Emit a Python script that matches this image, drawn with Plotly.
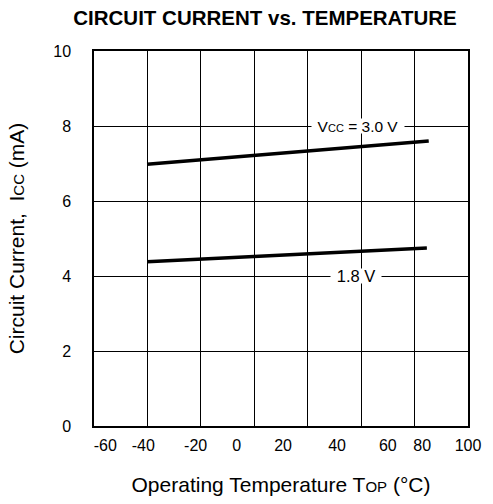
import plotly.graph_objects as go

# Data (x in the chart's linear axis units, y in mA)
temp_30 = [-37.3, 83.2]
icc_30 = [6.98, 7.60]
temp_18 = [-37.3, 82.4]
icc_18 = [4.38, 4.75]

# Tick labels and where they sit on the axis
x_tick_text = ["-60", "-40", "-20", "0", "20", "40", "60", "80", "100"]
x_tick_pos = [-55.2, -38.9, -16.5, 1.0, 20.9, 44.0, 65.7, 80.4, 100.0]
y_ticks = [0, 2, 4, 6, 8, 10]

FONT = "Liberation Sans, Arial, sans-serif"

fig = go.Figure()
fig.add_trace(go.Scatter(x=temp_30, y=icc_30, mode="lines",
                         line=dict(color="black", width=3.5),
                         hoverinfo="skip", showlegend=False))
fig.add_trace(go.Scatter(x=temp_18, y=icc_18, mode="lines",
                         line=dict(color="black", width=3.5),
                         hoverinfo="skip", showlegend=False))
# invisible trace on the label axis so it is drawn
fig.add_trace(go.Scatter(x=[x_tick_pos[0]], y=[0], xaxis="x2", mode="markers",
                         marker=dict(opacity=0), hoverinfo="skip", showlegend=False))

fig.update_layout(
    width=493, height=504,
    margin=dict(l=94, r=18, t=51, b=75),
    paper_bgcolor="white", plot_bgcolor="white",
    font=dict(family=FONT, color="black"),
    title=dict(text="<b>CIRCUIT CURRENT vs. TEMPERATURE</b>",
               x=0.5375, xanchor="center", y=0.964, yanchor="middle",
               font=dict(size=20.5, family=FONT, color="black")),
    xaxis=dict(range=[-60, 100], tick0=-60, dtick=160/7,
               showgrid=True, gridcolor="black", gridwidth=1,
               showticklabels=False, ticks="", zeroline=False,
               showline=True, linecolor="black", linewidth=1.5, mirror=True,
               title=dict(text="Operating Temperature T<span style='font-size:15px'>OP</span> (°C)",
                          font=dict(size=21, family=FONT), standoff=51)),
    xaxis2=dict(range=[-60, 100], overlaying="x", side="bottom", anchor="y",
                tickmode="array", tickvals=x_tick_pos, ticktext=x_tick_text,
                showgrid=False, zeroline=False, ticks="", showline=False,
                ticklabelstandoff=8,
                tickfont=dict(size=16, family=FONT)),
    yaxis=dict(range=[0, 10], tickmode="array", tickvals=y_ticks,
               showgrid=True, gridcolor="black", gridwidth=1,
               zeroline=False, ticks="", ticklabelstandoff=18,
               showline=True, linecolor="black", linewidth=1.5, mirror=True,
               tickfont=dict(size=16, family=FONT),
               title=dict(text="Circuit Current,  I<span style='font-size:15px'>CC</span> (mA)",
                          font=dict(size=21, family=FONT), standoff=23)),
    annotations=[
        dict(x=53.1, y=8, xref="x", yref="y",
             text="V<span style='font-size:11px'>CC</span> = 3.0 V",
             showarrow=False, bgcolor="white", width=90, height=12,
             font=dict(size=15.5, family=FONT)),
        dict(x=52.05, y=4, xref="x", yref="y", text="1.8 V",
             showarrow=False, bgcolor="white", width=48, height=12,
             font=dict(size=16.5, family=FONT)),
    ],
)

fig.write_html(
    "out.html", config={"displayModeBar": False},
    post_script=("document.documentElement.style.overflow='hidden';"
                 "document.body.style.overflow='hidden';"
                 "document.body.style.margin='0';"),
)
